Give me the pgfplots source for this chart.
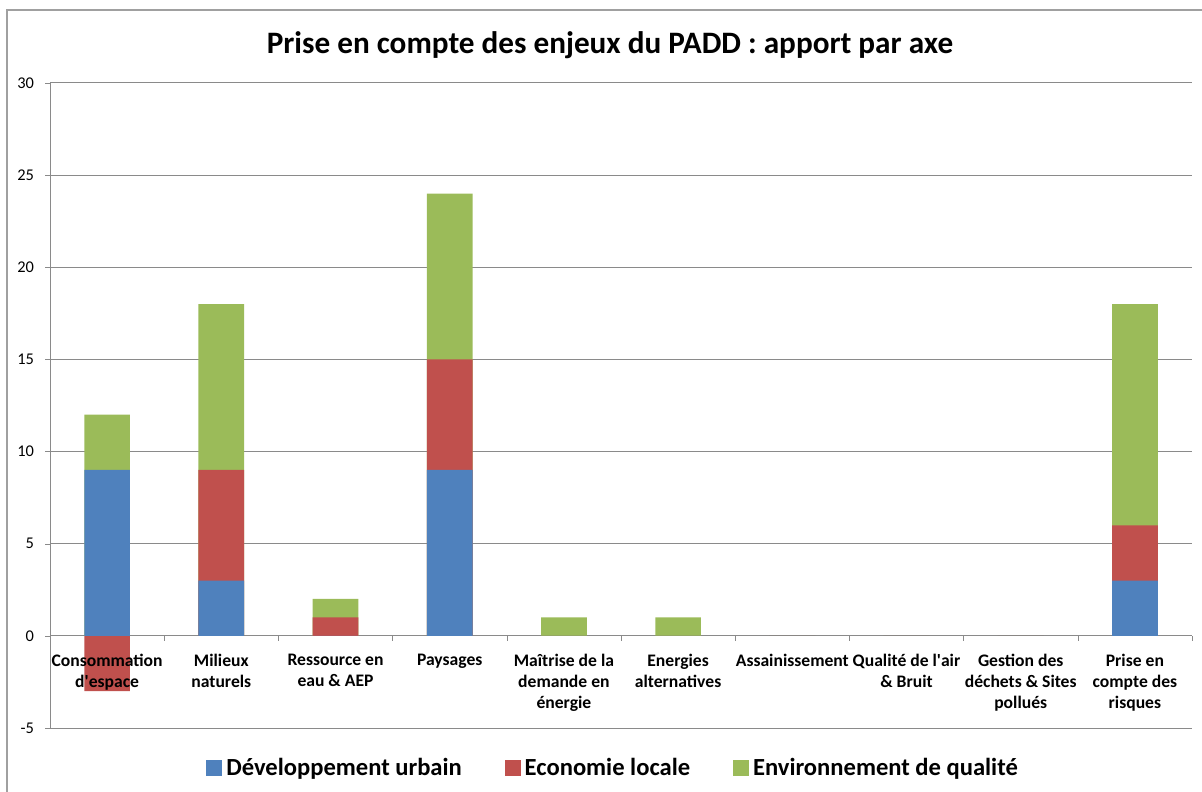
\documentclass[border=0pt]{standalone}
\usepackage{pgfplots}
\pgfplotsset{compat=1.18}
\usepackage{fontspec}
\setmainfont{Carlito}
\definecolor{blueC}{HTML}{4F81BD}
\definecolor{redC}{HTML}{C0504D}
\definecolor{greenC}{HTML}{9BBB59}
\definecolor{gridC}{HTML}{8A8A8A}
\definecolor{frameC}{HTML}{A0A0A0}
\pgfplotsset{
  layers/mylayers/.define layer set={axis background, axis grid, axis ticks, axis lines, main, axis tick labels, axis descriptions, axis foreground}{
    grid style={/pgfplots/on layer=axis grid},
    tick style={/pgfplots/on layer=axis ticks},
    axis line style={/pgfplots/on layer=axis lines},
    label style={/pgfplots/on layer=axis descriptions},
    legend style={/pgfplots/on layer=axis descriptions},
    title style={/pgfplots/on layer=axis descriptions},
    colorbar style={/pgfplots/on layer=axis descriptions},
    ticklabel style={/pgfplots/on layer=axis tick labels},
    axis background@ style={/pgfplots/on layer=axis background},
    3d box foreground style={/pgfplots/on layer=axis foreground},
  },
}
\begin{document}
\begin{tikzpicture}
\draw[frameC, line width=1pt] (3.5pt,-10pt) rectangle (700pt,390.5pt);
\node[font=\fontsize{15.6}{18}\selectfont\bfseries] at (305pt,373pt) {Prise en compte des enjeux du PADD : apport par axe};
\begin{axis}[
  set layers=mylayers,
  at={(25pt,31.5pt)}, anchor=south west,
  scale only axis, width=571pt, height=322.5pt,
  xmin=-0.5, xmax=9.5, ymin=-5, ymax=30,
  axis x line*=middle, axis y line*=left,
  x axis line style={-, gridC},
  y axis line style={-, gridC},
  ytick={-5,0,...,30},
  ymajorgrids, grid style={gridC, line width=0.5pt},
  major tick length=2.5pt,
  xtick={-0.5,0.5,...,9.5},
  xticklabels={},
  x tick style={gridC},
  xtick align=outside,
  hide obscured x ticks=false,
  extra x ticks={0,...,9},
  extra x tick labels={Consommation\\d\textquotesingle espace, Milieux\\naturels, Ressource en\\eau \& AEP, Paysages, Maîtrise de la\\demande en\\énergie, Energies\\alternatives, Assainissement, Qualité de l\textquotesingle air\\\& Bruit, Gestion des\\déchets \& Sites\\pollués, Prise en\\compte des\\risques},
  extra x tick style={grid=none, major tick length=0pt, tick style={draw=none},
    xticklabel style={align=center, font=\fontsize{8.8}{10.5}\selectfont\bfseries, anchor=north, yshift=-5.5pt}},
  y tick style={gridC}, ytick align=outside,
  yticklabel style={font=\fontsize{8.2}{9}\selectfont, xshift=-2pt},
  /pgf/number format/assume math mode=true,
  ybar, bar shift=0pt, bar width=0.4,
  legend columns=3,
  legend style={at={(0.494,-0.062)}, anchor=center, draw=none, font=\fontsize{12.3}{14}\selectfont\bfseries,
    /tikz/column 2/.style={column sep=19.5pt},
    /tikz/column 4/.style={column sep=19.5pt},
    inner sep=0pt},
  legend image code/.code={\fill[#1] (0pt,-3.75pt) rectangle (7.5pt,3.75pt);},
]
\addlegendimage{blueC}
\addlegendentry{Développement urbain}
\addlegendimage{redC}
\addlegendentry{Economie locale}
\addlegendimage{greenC}
\addlegendentry{Environnement de qualité}
% cumulative tops: Environnement (Dev+Eco+Env)
\addplot[fill=greenC, draw=none, forget plot] coordinates {(0,12) (1,18) (2,2) (3,24) (4,1) (5,1) (6,0) (7,0) (8,0) (9,18)};
% Economie (Dev+Eco; negative part alone below zero)
\addplot[fill=redC, draw=none, forget plot] coordinates {(0,-3) (1,9) (2,1) (3,15) (4,0) (5,0) (6,0) (7,0) (8,0) (9,6)};
% Developpement
\addplot[fill=blueC, draw=none, forget plot] coordinates {(0,9) (1,3) (2,0) (3,9) (4,0) (5,0) (6,0) (7,0) (8,0) (9,3)};
\end{axis}
\pgfresetboundingbox
\useasboundingbox (0,0) rectangle (601pt,395.5pt);
\end{tikzpicture}
\end{document}
